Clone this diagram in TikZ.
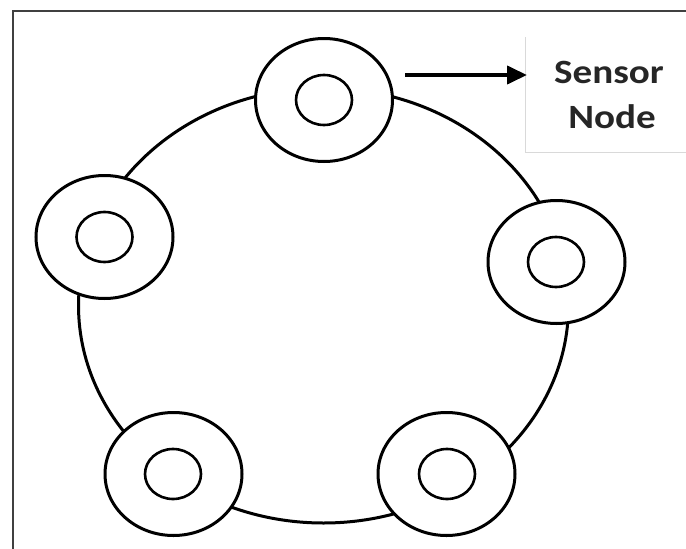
\documentclass[tikz,border=0pt]{standalone}
\usepackage{fontspec}
\setmainfont{Carlito}
\usetikzlibrary{shapes.geometric,arrows.meta}
\begin{document}
\begin{tikzpicture}[x=1pt,y=-1pt,
  outerring/.style={ellipse,draw=black,fill=white,line width=3pt,minimum width=137pt,minimum height=123pt,inner sep=0pt},
  innerring/.style={ellipse,draw=black,line width=2.6pt,minimum width=56pt,minimum height=50pt,inner sep=0pt},
  bigring/.style={ellipse,draw=black,line width=3pt,minimum width=490pt,minimum height=435pt,inner sep=0pt},
  labeltext/.style={font=\bfseries\fontsize{34}{40}\selectfont,text=black!85,inner sep=0pt,anchor=base}
]
\useasboundingbox (0,0) rectangle (686,549);
\fill[white] (0,0) rectangle (686,549);
% frame
\draw[line width=2pt,draw=black!75] (12.5,560) -- (12.5,11) -- (700,11);
% label box
\draw[line width=0.8pt,draw=black!15] (525,37) -- (525,152) -- (700,152);
% ring
\node[bigring] (ring) at (323.5,305.5) {};
% sensor nodes
\node[outerring] (top) at (324,100) {};
\node[innerring] (topi) at (324,100) {};
\node[outerring] (left) at (104.5,237) {};
\node[innerring] (lefti) at (104.5,237) {};
\node[outerring] (right) at (556.5,262) {};
\node[innerring] (righti) at (556,262) {};
\node[outerring] (bl) at (173.5,474) {};
\node[innerring] (bli) at (173,474) {};
\node[outerring] (br) at (446.5,474) {};
\node[innerring] (bri) at (447,474) {};
% label
\node[labeltext] (sensor) at (609,83) {\scalebox{1.15}[1]{Sensor}};
\node[labeltext] (nodelbl) at (612,128) {\scalebox{1.15}[1]{Node}};
\coordinate (lbl) at (527,75);
\coordinate (arrs) at (405,75);
\draw[line width=4pt,-{Triangle[length=20pt,width=18pt]}] (arrs) -- (lbl);
\end{tikzpicture}
\end{document}
